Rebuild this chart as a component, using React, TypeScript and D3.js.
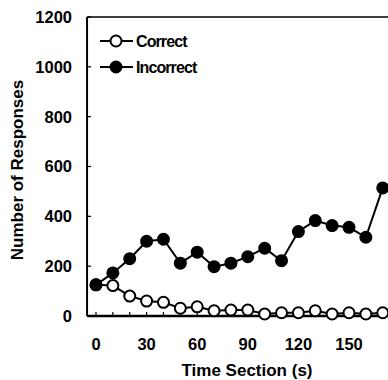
import React, { useEffect, useRef } from 'react'
import * as d3 from 'd3'

const times = [0, 10, 20, 30, 40, 50, 60, 70, 80, 90, 100, 110, 120, 130, 140, 150, 160, 170]
const correct = [125, 122, 80, 60, 55, 31, 37, 21, 24, 24, 8, 13, 13, 21, 8, 13, 8, 13]
const incorrect = [125, 173, 230, 300, 308, 212, 256, 198, 212, 238, 272, 222, 339, 383, 363, 356, 316, 514]
const yTicks = [0, 200, 400, 600, 800, 1000, 1200]
const xTicks = [0, 30, 60, 90, 120, 150]

const W = 388
const H = 380
const FONT = 'Liberation Sans, Arial, sans-serif'

export default function App() {
  const ref = useRef<SVGSVGElement>(null)

  useEffect(() => {
    const svg = d3.select(ref.current)
    svg.selectAll('*').remove()

    const x = d3.scaleLinear().domain([0, 150]).range([96, 349])
    const y = d3.scaleLinear().domain([0, 1200]).range([316, 17])
    const left = x(-5.3)

    // frame
    svg.append('line').attr('x1', left).attr('x2', W).attr('y1', y(1200)).attr('y2', y(1200))
      .attr('stroke', '#000').attr('stroke-width', 1.5)
    svg.append('line').attr('x1', left).attr('x2', left).attr('y1', y(1200)).attr('y2', y(0))
      .attr('stroke', '#000').attr('stroke-width', 2)
    svg.append('line').attr('x1', left).attr('x2', W).attr('y1', y(0)).attr('y2', y(0))
      .attr('stroke', '#000').attr('stroke-width', 2.5)

    // y ticks + labels
    svg.append('g').selectAll('line').data(yTicks).join('line')
      .attr('x1', left).attr('x2', left + 4).attr('y1', d => y(d)).attr('y2', d => y(d))
      .attr('stroke', '#000').attr('stroke-width', 1.2)
    svg.append('g').selectAll('text').data(yTicks).join('text')
      .attr('x', 72).attr('y', d => y(d)).attr('dy', '0.36em')
      .attr('text-anchor', 'end').attr('font-family', FONT).attr('font-weight', 'bold')
      .attr('font-size', 16.5).text(d => d)

    // x minor ticks
    const minor = d3.range(0, 180, 10)
    svg.append('g').selectAll('line').data(minor).join('line')
      .attr('x1', d => x(d)).attr('x2', d => x(d)).attr('y1', y(0)).attr('y2', y(0) - 4)
      .attr('stroke', '#000').attr('stroke-width', 1.2)
    svg.append('g').selectAll('text').data(xTicks).join('text')
      .attr('x', d => x(d)).attr('y', 350)
      .attr('text-anchor', 'middle').attr('font-family', FONT).attr('font-weight', 'bold')
      .attr('font-size', 16.5).text(d => d)

    // axis titles
    svg.append('text').attr('x', 247).attr('y', 376).attr('text-anchor', 'middle')
      .attr('font-family', FONT).attr('font-weight', 'bold').attr('font-size', 17)
      .text('Time Section (s)')
    svg.append('text').attr('transform', `translate(23,170) rotate(-90)`)
      .attr('text-anchor', 'middle').attr('font-family', FONT).attr('font-weight', 'bold')
      .attr('font-size', 17).text('Number of Responses')

    const line = d3.line<number>().x((d, i) => x(times[i])).y(d => y(d))

    const series = [
      { name: 'Correct', values: correct, fill: '#fff' },
      { name: 'Incorrect', values: incorrect, fill: '#000' },
    ]

    series.forEach(s => {
      svg.append('path').datum(s.values).attr('d', line).attr('fill', 'none')
        .attr('stroke', '#000').attr('stroke-width', 2)
    })
    series.forEach(s => {
      svg.append('g').selectAll('circle').data(s.values).join('circle')
        .attr('cx', (d, i) => x(times[i])).attr('cy', d => y(d)).attr('r', 5.5)
        .attr('fill', s.fill).attr('stroke', '#000').attr('stroke-width', 2)
    })

    // legend
    series.forEach((s, i) => {
      const ly = 41 + i * 26
      svg.append('line').attr('x1', 100).attr('x2', 133).attr('y1', ly).attr('y2', ly)
        .attr('stroke', '#000').attr('stroke-width', 2)
      svg.append('circle').attr('cx', 116).attr('cy', ly).attr('r', 5.5)
        .attr('fill', s.fill).attr('stroke', '#000').attr('stroke-width', 2)
      svg.append('text').attr('x', 136).attr('y', ly).attr('dy', '0.36em')
        .attr('font-family', FONT).attr('font-weight', 'bold').attr('font-size', 16)
        .attr('letter-spacing', -0.9).text(s.name)
    })
  }, [])

  return (
    <svg ref={ref} width={W} height={H}
      style={{ position: 'absolute', left: 0, top: 0, background: '#fff' }} />
  )
}
